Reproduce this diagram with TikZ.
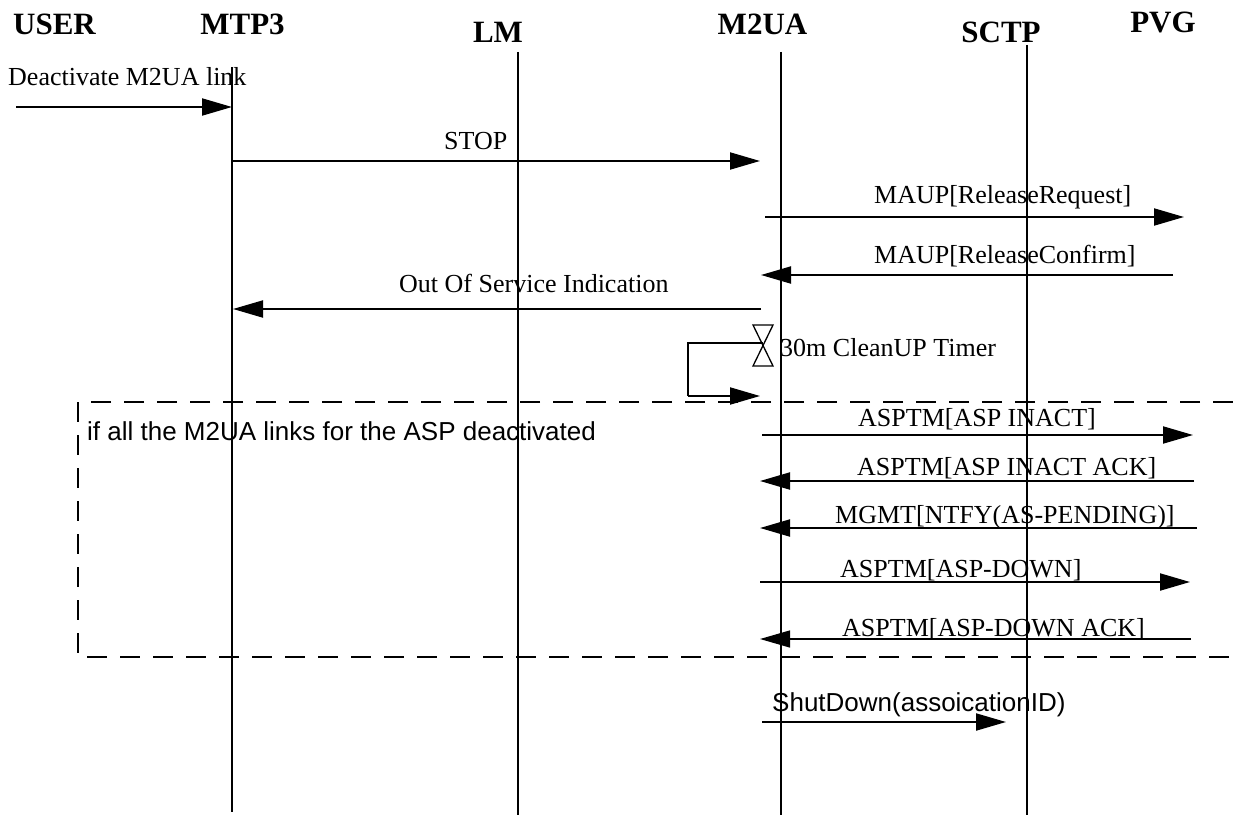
\documentclass[tikz,border=0pt]{standalone}
\usepackage{fontspec}
\setmainfont{Liberation Serif}
\setsansfont{Liberation Sans}
\usetikzlibrary{arrows.meta}
\begin{document}
\begin{tikzpicture}[x=1pt,y=-1pt,
  head/.style={font=\fontsize{31}{31}\selectfont\bfseries, inner sep=0pt, anchor=base},
  lbl/.style={font=\fontsize{26}{26}\selectfont, inner sep=0pt, anchor=base west},
  slbl/.style={font=\sffamily\fontsize{26}{26}\selectfont, inner sep=0pt, anchor=base west},
  life/.style={line width=1.8pt},
  msg/.style={line width=2pt, -{Triangle[length=30pt,width=17pt]}},
  frame/.style={line width=2pt, dash pattern=on 20pt off 13pt},
  timer/.style={line width=1.3pt}]
\useasboundingbox (0,0) rectangle (1233,816);

% participants
\node[head] (user) at (54.5,35) {USER};
\node[head] (mtp3) at (242.5,35) {MTP3};
\node[head] (lm)   at (498,43) {LM};
\node[head] (m2ua) at (762.5,35) {M2UA};
\node[head] (sctp) at (1001,43) {SCTP};
\node[head] (pvg)  at (1163,33) {PVG};

% lifelines
\coordinate (mtp3t) at (232,67);   \coordinate (mtp3b) at (232,812);
\coordinate (lmt)   at (518,52);   \coordinate (lmb)   at (518,815);
\coordinate (m2uat) at (781,52);   \coordinate (m2uab) at (781,815);
\coordinate (sctpt) at (1027,45);  \coordinate (sctpb) at (1027,815);
\draw[line width=1.2pt] (mtp3t) -- (mtp3b);
\draw[life] (lmt) -- (lmb);
\draw[life] (m2uat) -- (m2uab);
\draw[life] (sctpt) -- (sctpb);

% message end points
\coordinate (u1) at (16,107);   \coordinate (u2) at (232,107);
\coordinate (s1) at (231,161);  \coordinate (s2) at (760,161);
\coordinate (r1) at (765,217);  \coordinate (r2) at (1184,217);
\coordinate (c1) at (1173,275); \coordinate (c2) at (761,275);
\coordinate (o1) at (761,309);  \coordinate (o2) at (233,309);
\coordinate (i1) at (762,435);  \coordinate (i2) at (1193,435);
\coordinate (a1) at (1194,481); \coordinate (a2) at (760,481);
\coordinate (n1) at (1197,528); \coordinate (n2) at (760,528);
\coordinate (d1) at (760,582);  \coordinate (d2) at (1190,582);
\coordinate (k1) at (1191,639); \coordinate (k2) at (760,639);
\coordinate (h1) at (762,722);  \coordinate (h2) at (1006,722);

% messages
\draw[msg] (u1) -- (u2);
\node[lbl] (lu) at (8,85) {Deactivate M2UA link};
\draw[msg] (s1) -- (s2);
\node[lbl] (ls) at (444,149) {STOP};
\draw[msg] (r1) -- (r2);
\node[lbl] (lr) at (874,203) {MAUP[ReleaseRequest]};
\draw[msg] (c1) -- (c2);
\node[lbl] (lc) at (874,263) {MAUP[ReleaseConfirm]};
\draw[msg] (o1) -- (o2);
\node[lbl] (lo) at (399,292) {Out Of Service Indication};

% clean-up timer
\coordinate (hg) at (763,343);
\coordinate (hl) at (688,343);
\coordinate (hd) at (688,396);
\coordinate (he) at (760,396);
\draw[timer] (753,325) -- (773,325) -- (753,366) -- (773,366) -- cycle;
\draw[line width=2pt] (hg) -- (hl) -- (hd);
\draw[msg] (hd) -- (he);
\node[lbl] (lt) at (780,356) {30m CleanUP Timer};

% conditional frame
\draw[frame] (1233,402) -- (78,402) -- (78,657) -- (1233,657);
\node[slbl] (lf) at (87,440) {if all the M2UA links for the ASP deactivated};

\draw[msg] (i1) -- (i2);
\node[lbl] (li) at (858,426) {ASPTM[ASP INACT]};
\draw[msg] (a1) -- (a2);
\node[lbl] (la) at (857,475) {ASPTM[ASP INACT ACK]};
\draw[msg] (n1) -- (n2);
\node[lbl] (ln) at (835,523) {MGMT[NTFY(AS-PENDING)]};
\draw[msg] (d1) -- (d2);
\node[lbl] (ld) at (840,577) {ASPTM[ASP-DOWN]};
\draw[msg, line width=1.3pt] (k1) -- (k2);
\node[lbl] (lk) at (842,636) {ASPTM[ASP-DOWN ACK]};

\draw[msg] (h1) -- (h2);
\node[slbl] (lh) at (772,711) {ShutDown(assoicationID)};
\end{tikzpicture}
\end{document}
